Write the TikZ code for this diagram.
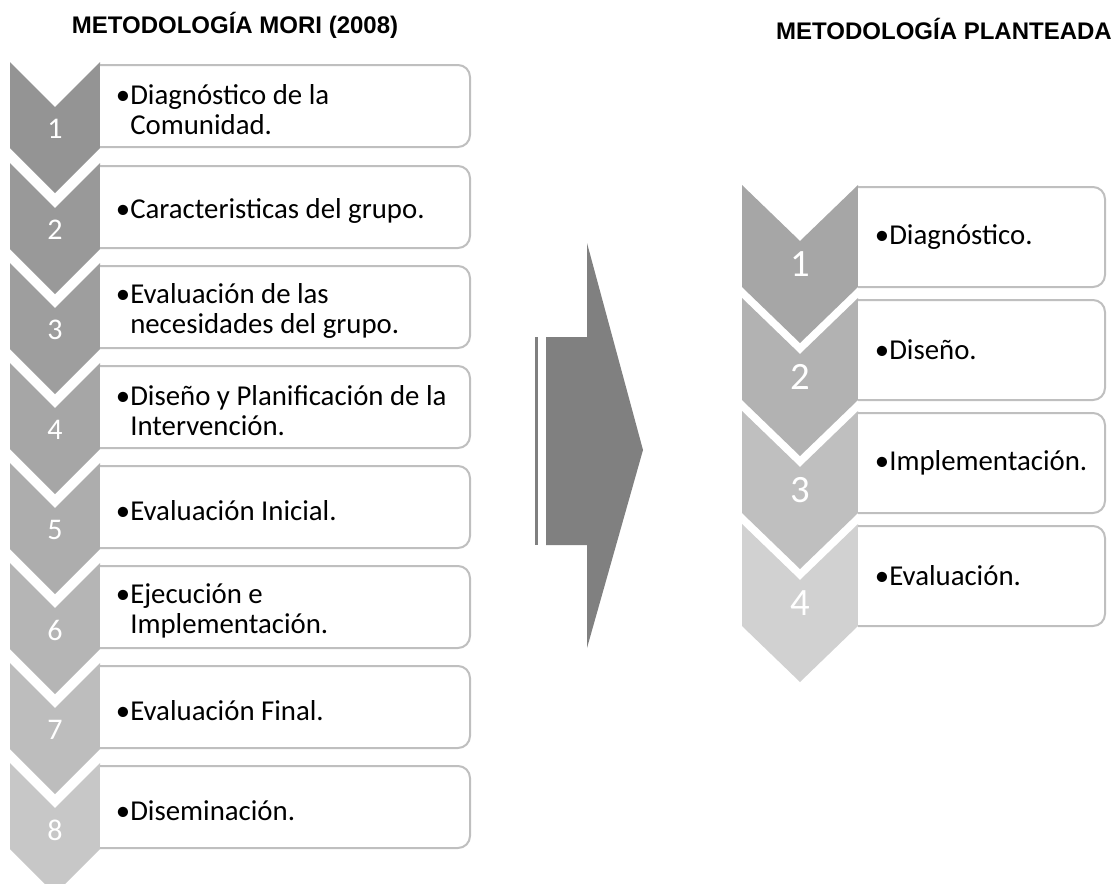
\documentclass[tikz,border=0pt]{standalone}
\usepackage{fontspec}
\setmainfont{Carlito}
\newfontfamily\titlefont{Liberation Sans}
\begin{document}
\begin{tikzpicture}[x=0.75pt,y=-0.75pt,
  boxline/.style={draw=black!25,line width=1.5pt,fill=white,rounded corners=9pt},
  itemtext/.style={anchor=west,inner sep=0pt,align=left,font=\fontsize{21.6}{22.5}\selectfont,text=black},
  numL/.style={inner sep=0pt,text=white,font=\fontsize{22.5}{24}\selectfont},
  numR/.style={inner sep=0pt,text=white,font=\fontsize{29}{32}\selectfont},
  ttl/.style={inner sep=0pt,font=\titlefont\bfseries\fontsize{18}{20}\selectfont}]
\useasboundingbox (0,0) rectangle (1118,883);
\clip (0,0) rectangle (1118,883);
% titles
\node[ttl] (t1) at (235,25) {METODOLOGÍA MORI (2008)};
\node[ttl] (t2) at (944,29) {METODOLOGÍA PLANTEADA};
% left chevron list
\foreach \i/\T/\g/\txt in {
  1/62/42/{\llap{•}Diagnóstico de la\\Comunidad.},
  2/163/40/{\llap{•}Caracteristicas del grupo.},
  3/263/38/{\llap{•}Evaluación de las\\necesidades del grupo.},
  4/363/35/{\llap{•}Diseño y Planificación de la\\Intervención.},
  5/463/32/{\llap{•}Evaluación Inicial.},
  6/563/29/{\llap{•}Ejecución e\\Implementación.},
  7/663/26/{\llap{•}Evaluación Final.},
  8/763/22/{\llap{•}Diseminación.}}{
  \fill[black!\g!white] (10,\T) -- (55,\T+45) -- (100,\T) -- (100,\T+86) -- (55,\T+131) -- (10,\T+86) -- cycle;
  \draw[boxline] (100,\T+3) -- (470,\T+3) -- (470,\T+85) -- (100,\T+85);
  \node[numL] (nL\i) at (55,\T+67) {\i};
  \node[itemtext] (iL\i) at (130,\T+48) {\txt};
}
% arrow
\fill[black!50!white] (535,337) rectangle (538,545);
\fill[black!50!white] (546,337) -- (587,337) -- (587,243) -- (643,450) -- (587,648) -- (587,545) -- (546,545) -- cycle;
% right chevron list
\foreach \i/\T/\g/\txt in {
  1/185/35/{\llap{•}Diagnóstico.},
  2/298/30/{\llap{•}Diseño.},
  3/411/25/{\llap{•}Implementación.},
  4/524/18/{\llap{•}Evaluación.}}{
  \fill[black!\g!white] (742,\T) -- (800,\T+56) -- (858,\T) -- (858,\T+102) -- (800,\T+158) -- (742,\T+102) -- cycle;
  \draw[boxline] (858,\T+2) -- (1105,\T+2) -- (1105,\T+102) -- (858,\T+102);
  \node[numR] (nR\i) at (800,\T+79) {\i};
  \node[itemtext] (iR\i) at (889,\T+52) {\txt};
}
\end{tikzpicture}
\end{document}
